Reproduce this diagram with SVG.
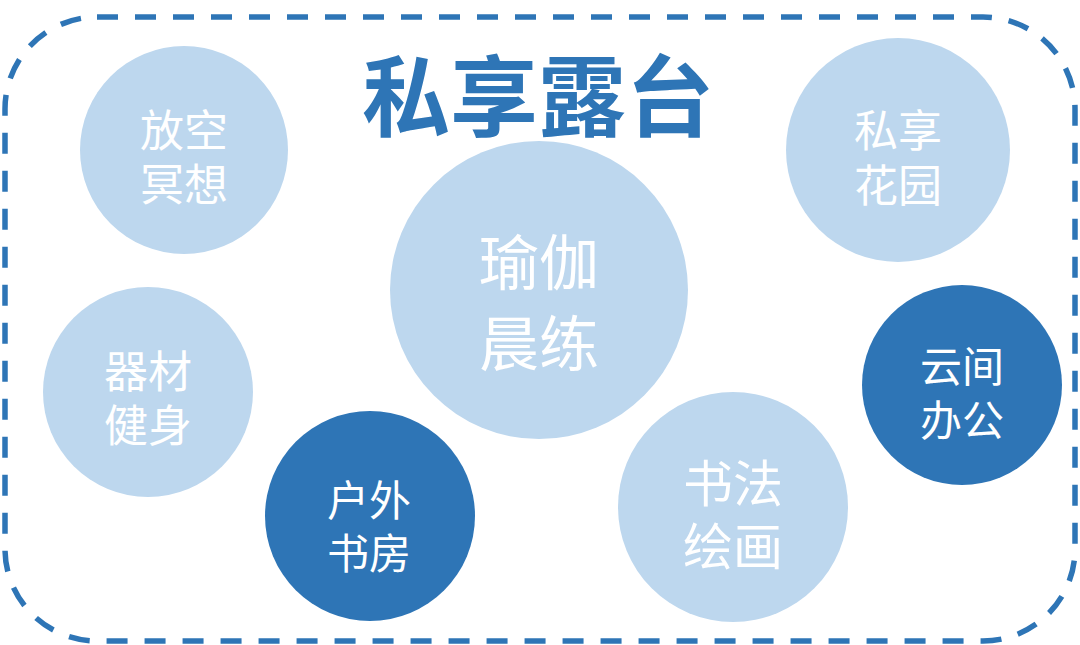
<svg xmlns="http://www.w3.org/2000/svg" width="1080" height="645" viewBox="0 0 1080 645">
<style>
.light{fill:#BDD7EE}
.dark{fill:#2E75B6}
.t{fill:#FFFFFF;font-family:"Noto Sans CJK SC","Noto Sans",sans-serif;text-anchor:middle;dominant-baseline:central}
.title{fill:#2E75B6;font-family:"Noto Sans CJK SC","Noto Sans",sans-serif;font-weight:bold;font-size:88px;text-anchor:middle;dominant-baseline:central}
</style>
<rect width="1080" height="645" fill="#FFFFFF"/>
<rect x="5" y="17" width="1070" height="624" rx="92" ry="92" fill="none" stroke="#2E75B6" stroke-width="5.5" stroke-dasharray="21 17"/>
<text class="title" x="538" y="90">私享露台</text>
<g id="n1"><circle class="light" cx="184" cy="150" r="104"/><text class="t" font-size="44" x="184" y="128">放空</text><text class="t" font-size="44" x="184" y="182">冥想</text></g>
<g id="n2"><circle class="light" cx="898" cy="150" r="112"/><text class="t" font-size="44" x="898" y="128">私享</text><text class="t" font-size="44" x="898" y="183">花园</text></g>
<g id="n3"><circle class="light" cx="539" cy="290" r="149"/><text class="t" font-size="60" x="539" y="258">瑜伽</text><text class="t" font-size="60" x="539" y="339">晨练</text></g>
<g id="n4"><circle class="light" cx="148" cy="392" r="105"/><text class="t" font-size="44" x="148" y="369">器材</text><text class="t" font-size="44" x="148" y="423">健身</text></g>
<g id="n5"><circle class="dark" cx="962" cy="385" r="100"/><text class="t" font-size="42" x="962" y="363">云间</text><text class="t" font-size="42" x="962" y="417">办公</text></g>
<g id="n6"><circle class="dark" cx="370" cy="516" r="105"/><text class="t" font-size="42" x="369" y="497">户外</text><text class="t" font-size="42" x="369" y="550">书房</text></g>
<g id="n7"><circle class="light" cx="733" cy="507" r="115"/><text class="t" font-size="50" x="733" y="480">书法</text><text class="t" font-size="50" x="733" y="543">绘画</text></g>
<g id="connectors"></g>
</svg>
